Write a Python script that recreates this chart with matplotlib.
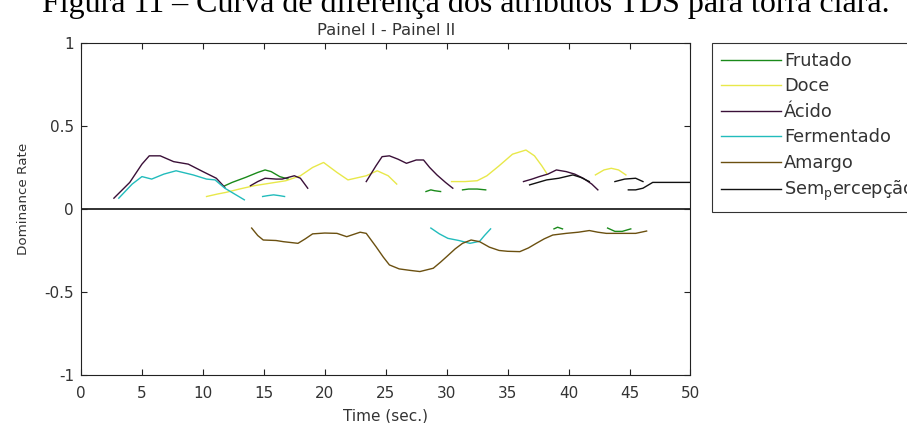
import numpy as np
import matplotlib.pyplot as plt

plt.rcParams['font.family'] = ['DejaVu Sans']

# Difference curves (Painel I - Painel II); each attribute has several segments
frutado_x = [[11.8, 12.4, 13.5, 14.5, 15.1, 15.6, 16.3, 17.0],
             [28.3, 28.7, 29.0, 29.5],
             [31.3, 31.8, 32.5, 33.2],
             [38.8, 39.1, 39.5],
             [43.2, 43.8, 44.4, 45.1]]
frutado_y = [[0.14, 0.16, 0.19, 0.22, 0.235, 0.225, 0.195, 0.18],
             [0.105, 0.115, 0.11, 0.105],
             [0.115, 0.12, 0.12, 0.115],
             [-0.12, -0.11, -0.12],
             [-0.115, -0.135, -0.135, -0.12]]

doce_x = [[10.3, 11.2, 11.9, 13.0, 14.2, 15.5, 16.8, 18.0, 19.0, 19.9, 21.0, 21.9, 23.4, 24.3, 25.2, 25.9],
          [30.4, 31.5, 32.5, 33.3, 34.3, 35.4, 36.5, 37.2, 37.8, 38.2],
          [42.2, 42.9, 43.5, 44.1, 44.7]]
doce_y = [[0.075, 0.09, 0.1, 0.12, 0.14, 0.155, 0.17, 0.2, 0.25, 0.28, 0.22, 0.175, 0.2, 0.23, 0.2, 0.15],
          [0.165, 0.165, 0.17, 0.2, 0.26, 0.33, 0.355, 0.32, 0.26, 0.215],
          [0.205, 0.235, 0.245, 0.235, 0.205]]

acido_x = [[2.7, 4.0, 5.0, 5.6, 6.5, 7.6, 8.8, 10.0, 11.1, 11.8],
           [13.9, 14.5, 15.1, 16.0, 16.5, 17.5, 18.0, 18.6],
           [23.4, 24.2, 24.7, 25.3, 26.0, 26.7, 27.5, 28.1, 28.6, 29.2, 29.9, 30.5],
           [36.3, 37.0, 37.6, 38.3, 39.0, 39.8, 40.5, 41.2, 41.9, 42.4]]
acido_y = [[0.065, 0.16, 0.27, 0.32, 0.32, 0.285, 0.27, 0.225, 0.185, 0.13],
           [0.14, 0.165, 0.185, 0.18, 0.18, 0.2, 0.185, 0.125],
           [0.165, 0.26, 0.315, 0.32, 0.3, 0.275, 0.295, 0.295, 0.25, 0.205, 0.16, 0.125],
           [0.165, 0.18, 0.195, 0.21, 0.235, 0.225, 0.21, 0.185, 0.15, 0.115]]

fermentado_x = [[3.1, 4.2, 5.0, 5.8, 6.8, 7.8, 9.2, 10.3, 11.0, 11.8, 12.6, 13.4],
                [14.9, 15.3, 15.8, 16.3, 16.7],
                [28.7, 29.4, 30.1, 31.0, 31.9, 32.7, 33.1, 33.6]]
fermentado_y = [[0.065, 0.15, 0.195, 0.18, 0.21, 0.23, 0.205, 0.18, 0.175, 0.125, 0.09, 0.055],
                [0.075, 0.08, 0.085, 0.08, 0.075],
                [-0.115, -0.15, -0.177, -0.19, -0.207, -0.195, -0.16, -0.12]]

amargo_x = [[14.0, 14.5, 14.95, 16.0, 16.6, 17.8, 18.4, 19.0, 20.0, 21.0, 21.8, 22.9, 23.4, 24.2,
             24.8, 25.3, 26.1, 27.0, 27.8, 28.9, 29.5, 30.0, 30.7, 31.3, 32.0, 32.7, 33.5, 34.3,
             35.0, 36.0, 36.7, 37.35, 38.0, 38.7, 39.8, 40.8, 41.7, 42.4, 43.1, 44.3, 45.5, 46.4]]
amargo_y = [[-0.115, -0.16, -0.187, -0.19, -0.197, -0.207, -0.18, -0.15, -0.145, -0.147, -0.167, -0.14,
             -0.147, -0.227, -0.29, -0.337, -0.361, -0.37, -0.377, -0.357, -0.32, -0.287, -0.24,
             -0.207, -0.187, -0.197, -0.23, -0.25, -0.255, -0.257, -0.235, -0.207, -0.18, -0.157,
             -0.147, -0.14, -0.13, -0.14, -0.147, -0.147, -0.147, -0.133]]

sem_x = [[36.8, 37.5, 38.2, 39.2, 40.35, 41.0, 41.7],
         [43.8, 44.6, 45.5, 46.1],
         [44.9, 45.5, 46.1, 46.9, 48.0, 50.0]]
sem_y = [[0.145, 0.16, 0.175, 0.185, 0.205, 0.19, 0.165],
         [0.165, 0.18, 0.185, 0.165],
         [0.115, 0.115, 0.125, 0.16, 0.16, 0.16]]

series = [("Frutado", frutado_x, frutado_y, "#1a8a1a"),
          ("Doce", doce_x, doce_y, "#e8e84a"),
          ("Ácido", acido_x, acido_y, "#3a1038"),
          ("Fermentado", fermentado_x, fermentado_y, "#22bcbc"),
          ("Amargo", amargo_x, amargo_y, "#6b5010"),
          ("Sem$_\\mathregular{p}$ercepção", sem_x, sem_y, "#111111")]

fig = plt.figure(figsize=(9.07, 4.23), dpi=100)
ax = fig.add_axes([0.0893, 0.1135, 0.672, 0.785])

for name, xs, ys, color in series:
    for i, (sx, sy) in enumerate(zip(xs, ys)):
        ax.plot(sx, sy, color=color, lw=1.0, label=name if i == 0 else None)

ax.axhline(0, color="#222222", lw=1.3)

ax.set_xlim(0, 50)
ax.set_ylim(-1, 1)
ax.set_xticks(np.arange(0, 51, 5))
ax.set_yticks([-1, -0.5, 0, 0.5, 1])
ax.set_yticklabels(["-1", "-0.5", "0", "0.5", "1"])
ax.tick_params(direction="in", top=True, right=True, labelsize=11, length=4, pad=5,
               colors="#222222", labelcolor="#333333")
ax.tick_params(axis="x", pad=8)
for s in ax.spines.values():
    s.set_color("#222222")
    s.set_linewidth(0.8)

ax.set_xlabel("Time (sec.)", fontsize=11, labelpad=5, color="#333333")
ax.set_ylabel("Dominance Rate", fontsize=9.7, color="#333333")
ax.yaxis.set_label_coords(-0.083, 0.53)
ax.set_title("Painel I - Painel II", fontsize=11.8, pad=6, color="#333333")

leg = fig.legend(loc="upper left", bbox_to_anchor=(712 / 907, 1 - 43 / 423), fontsize=12.8,
                 handlelength=3.4, handletextpad=0.15, labelspacing=0.42, borderaxespad=0.0,
                 frameon=True, fancybox=False, edgecolor="black", borderpad=0.5)
leg.get_frame().set_linewidth(0.8)
for t in leg.get_texts():
    t.set_color("#333333")

fig.text(0.514, 1 - 12 / 423, "Figura 11 – Curva de diferença dos atributos TDS para torra clara.",
         family="Liberation Serif", fontsize=23, ha="center", va="baseline")

fig.savefig("out.png", dpi=100)
